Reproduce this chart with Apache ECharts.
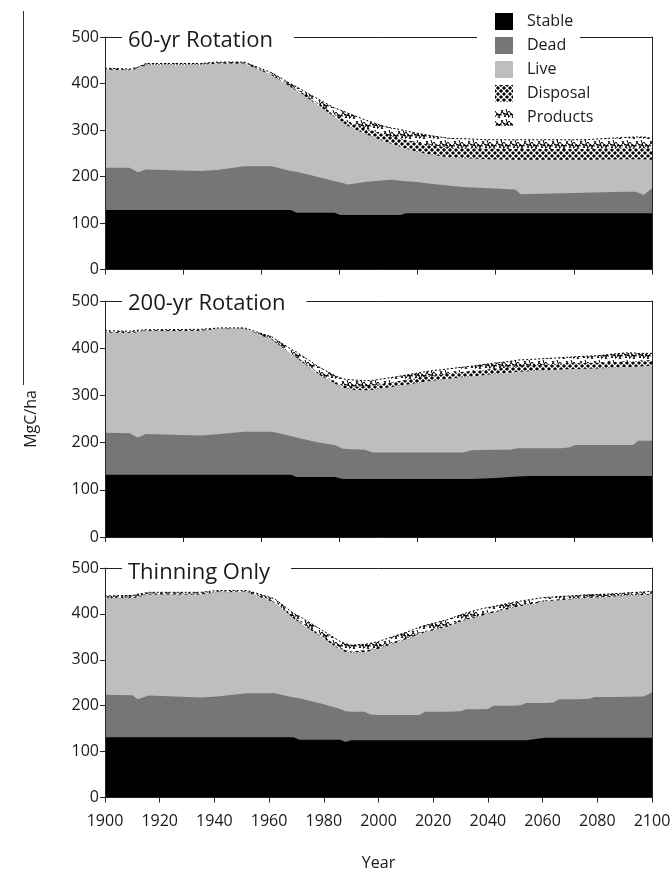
<!DOCTYPE html>
<html>
<head>
<meta charset="utf-8">
<script src="https://cdn.jsdelivr.net/npm/echarts@6/dist/echarts.min.js"></script>
<style>
  html, body { margin: 0; padding: 0; background: #fff; }
  #main { width: 672px; height: 873px; }
</style>
</head>
<body>
<div id="main"></div>
<script>
var names = ['Stable', 'Dead', 'Live', 'Disposal', 'Products'];
var titles = ['60-yr Rotation', '200-yr Rotation', 'Thinning Only'];

// 60-yr rotation (MgC/ha per pool)
var years60 = [1900,1909,1912,1915,1935,1941,1951,1961,1968,1970,1975,1984,1986,1989,1995,2002,2005,2008,2010,2014,2020,2026,2032,2040,2050,2052,2060,2075,2090,2094,2097,2100];
var stable60 = [128,128,128,128,128,128,128,128,128,122,122,122,117,117,117,117,117,117,121,121,121,121,121,121,121,121,121,121,121,121,121,121];
var dead60 = [91,91,81,87,84,86,94,94,84,88,81,68,70,66,71,75,76,74,69,67,63,59,56,54,51,41,42,44,46,46,39,54];
var live60 = [211,209,223,225,228,229,221,196,180,175,162,138,133,125,104,84,77,73,70,65,62,61,62,62,64,74,73,71,70,70,77,61];
var disposal60 = [2,2,2,2,2,2,2,2,3,3,4,6,7,8,12,15,16,18,19,20,21,21,22,23,23,23,23,23,24,24,24,24];
var products60 = [1,1,1,1,1,1,1,3,4,5,7,13,16,20,18,17,18,19,19,20,20,20,20,19,20,20,20,20,23,24,24,22];

// 200-yr rotation
var years200 = [1900,1909,1912,1915,1935,1942,1951,1961,1968,1970,1978,1984,1987,1990,1995,1998,2006,2018,2031,2034,2043,2048,2051,2055,2067,2070,2072,2080,2090,2093,2095,2100];
var stable200 = [132,132,132,132,132,132,132,132,132,127,127,127,123,123,123,123,123,123,123,123,125,127,128,129,129,129,129,129,129,129,129,129];
var dead200 = [89,88,79,86,83,86,91,91,82,84,73,68,64,63,62,56,56,56,56,61,60,58,60,59,59,61,66,66,66,66,75,75];
var live200 = [212,212,223,218,222,223,218,195,174,169,145,130,130,126,126,133,140,151,160,156,161,163,162,163,167,166,161,162,165,165,157,159];
var disposal200 = [2,2,2,2,2,1,1,2,2,2,3,4,5,7,8,9,10,10,11,11,11,11,11,12,12,12,12,12,12,12,12,12];
var products200 = [2,2,2,1,1,1,1,4,8,10,13,13,13,14,12,11,10,11,10,11,12,13,14,13,13,13,14,15,18,18,16,14];

// thinning only
var yearsThin = [1900,1910,1912,1916,1935,1941,1952,1962,1969,1971,1979,1986,1988,1990,1995,1997,2000,2012,2015,2017,2025,2030,2032,2037,2040,2042,2049,2052,2054,2061,2064,2066,2073,2077,2079,2086,2097,2100];
var stableThin = [131,131,131,131,131,131,131,131,131,126,126,126,121,125,125,125,125,125,125,125,125,125,125,125,125,125,125,125,125,130,130,130,130,130,130,130,130,130];
var deadThin = [93,92,83,91,87,89,96,96,87,90,79,67,67,62,62,56,55,55,55,62,62,63,67,67,68,75,75,76,81,76,77,84,84,85,89,89,90,99];
var liveThin = [209,211,223,220,224,227,220,198,172,166,145,129,129,127,130,138,144,169,176,173,185,195,195,203,207,203,213,216,213,221,222,216,219,220,217,219,221,213];
var disposalThin = [2,2,2,2,2,2,2,3,3,3,4,4,4,4,4,4,4,3,3,3,3,3,3,3,3,3,3,3,3,2,2,2,2,2,2,2,2,2];
var productsThin = [4,4,4,3,3,2,2,5,8,10,12,14,14,14,13,13,12,12,12,12,12,12,12,12,11,10,9,8,8,7,6,6,5,5,4,4,5,5];

var font = 'Open Sans';
var ink = '#1a1a1a';

// fill patterns
function disposalPattern() {
    var c = document.createElement('canvas');
    c.width = 6; c.height = 6;
    var g = c.getContext('2d');
    g.fillStyle = '#fff';
    g.fillRect(0, 0, 6, 6);
    g.fillStyle = '#000';
    [[0,0],[6,0],[0,6],[6,6],[3,3]].forEach(function (p) {
        g.beginPath();
        g.moveTo(p[0], p[1] - 2.1);
        g.lineTo(p[0] + 2.1, p[1]);
        g.lineTo(p[0], p[1] + 2.1);
        g.lineTo(p[0] - 2.1, p[1]);
        g.closePath();
        g.fill();
    });
    return { image: c, repeat: 'repeat' };
}
function productsPattern() {
    var c = document.createElement('canvas');
    c.width = 14; c.height = 10;
    var g = c.getContext('2d');
    g.fillStyle = '#fff';
    g.fillRect(0, 0, 14, 10);
    g.strokeStyle = '#000';
    g.lineWidth = 1;
    var segs = [[0,2,5,9],[3,9,8,1],[6,1,11,8],[9,8,14,2],[1,5,7,6],[8,4,14,6],[0,8,3,4],[11,0,14,9]];
    segs.forEach(function (s) {
        g.beginPath();
        g.moveTo(s[0], s[1]);
        g.lineTo(s[2], s[3]);
        g.stroke();
    });
    return { image: c, repeat: 'repeat' };
}
var fills = ['#000000', '#767676', '#bebebe', disposalPattern(), productsPattern()];

var panels = [
    { years: years60, vals: [stable60, dead60, live60, disposal60, products60] },
    { years: years200, vals: [stable200, dead200, live200, disposal200, products200] },
    { years: yearsThin, vals: [stableThin, deadThin, liveThin, disposalThin, productsThin] }
];
var grids = [
    { left: 105, right: 20, top: 37, height: 232.5, outerBoundsMode: 'none' },
    { left: 105, right: 20, top: 301, height: 236, outerBoundsMode: 'none' },
    { left: 105, right: 20, top: 568, height: 229.5, outerBoundsMode: 'none' }
];
var titleTops = [30, 293, 562];

var axisLine = { show: true, onZero: false, lineStyle: { color: '#222', width: 1 } };
var xAxes = [], yAxes = [], series = [];

grids.forEach(function (g, gi) {
    var last = gi === 2;
    var dataAxisIndex = xAxes.length;
    xAxes.push({
        type: 'value', gridIndex: gi, min: 1900, max: 2100, interval: 20, position: 'bottom', z: 5,
        axisLine: axisLine,
        axisTick: { show: last, length: 5, lineStyle: { color: '#222' } },
        axisLabel: { show: last, fontSize: 16, color: ink, fontFamily: font, margin: 16,
                     formatter: function (v) { return String(v); } },
        splitLine: { show: false },
        name: last ? 'Year' : '', nameLocation: 'middle', nameGap: 58,
        nameTextStyle: { fontSize: 16, color: ink, fontFamily: font }
    });
    // top frame line
    xAxes.push({
        type: 'value', gridIndex: gi, min: 0, max: 1, position: 'top', z: 5,
        axisLine: axisLine, axisTick: { show: false }, axisLabel: { show: false }, splitLine: { show: false }
    });
    var leftIndex = yAxes.length;
    yAxes.push({
        type: 'value', gridIndex: gi, min: 0, max: 500, interval: 100, position: 'left', z: 5,
        axisLine: axisLine,
        axisTick: { show: true, length: 5, lineStyle: { color: '#222' } },
        axisLabel: { fontSize: 16, color: ink, fontFamily: font, margin: 6 },
        splitLine: { show: false },
        name: gi === 1 ? 'MgC/ha' : '', nameLocation: 'middle', nameGap: 66, nameRotate: 90,
        nameTextStyle: { fontSize: 16, color: ink, fontFamily: font }
    });
    yAxes.push({
        type: 'value', gridIndex: gi, min: 0, max: 500, position: 'right', z: 5,
        axisLine: axisLine, axisTick: { show: false }, axisLabel: { show: false }, splitLine: { show: false }
    });

    var p = panels[gi];
    // running totals of the pools; draw the tallest first so lower pools sit on top
    var cum = [];
    p.vals.forEach(function (arr, si) {
        cum.push(arr.map(function (v, k) { return si ? cum[si - 1][k] + v : v; }));
    });
    for (var si = names.length - 1; si >= 0; si--) {
        series.push({
            name: names[si], type: 'line',
            xAxisIndex: dataAxisIndex, yAxisIndex: leftIndex,
            symbol: 'none',
            lineStyle: si === 4 ? { width: 1, color: '#000', type: [2, 2] } : { width: 0 },
            itemStyle: { color: fills[si] },
            areaStyle: { color: fills[si], opacity: 1 },
            data: p.years.map(function (y, k) { return [y, cum[si][k]]; })
        });
    }
});

// tick-only axes for the upper panels (7 equal intervals)
[0, 1].forEach(function (gi) {
    xAxes.push({
        type: 'value', gridIndex: gi, min: 0, max: 7, interval: 1, position: 'bottom', z: 5,
        axisLine: { show: false, onZero: false },
        axisTick: { show: true, length: 5, lineStyle: { color: '#222' } },
        axisLabel: { show: false }, splitLine: { show: false }
    });
});

var chart = echarts.init(document.getElementById('main'));
chart.setOption({
    animation: false,
    backgroundColor: '#fff',
    title: titles.map(function (t, i) {
        return {
            text: t, left: 122, top: titleTops[i], padding: [0, 21, 0, 6], z: 10,
            backgroundColor: '#fff',
            textStyle: { fontSize: 22, fontWeight: 'normal', color: ink, fontFamily: font, lineHeight: 22 }
        };
    }),
    legend: {
        orient: 'vertical', left: 477, top: 12, padding: [1, 4, 1, 18], z: 10,
        icon: 'rect', itemWidth: 18, itemHeight: 17, itemGap: 7,
        selectedMode: false,
        textStyle: { fontSize: 16, color: ink, fontFamily: font, padding: [0, 0, 0, 9] },
        data: names.map(function (n, i) { return { name: n, itemStyle: { color: fills[i] } }; })
    },
    grid: grids,
    xAxis: xAxes,
    yAxis: yAxes,
    series: series,
    graphic: [
        { type: 'line', shape: { x1: 23.5, y1: 11, x2: 23.5, y2: 385 },
          style: { stroke: '#333', lineWidth: 1 } },
        // gap in the top frame line behind the legend (below the legend text)
        { type: 'rect', z: 7, shape: { x: 477, y: 34, width: 103, height: 6 },
          style: { fill: '#fff' } }
    ]
});
</script>
</body>
</html>
